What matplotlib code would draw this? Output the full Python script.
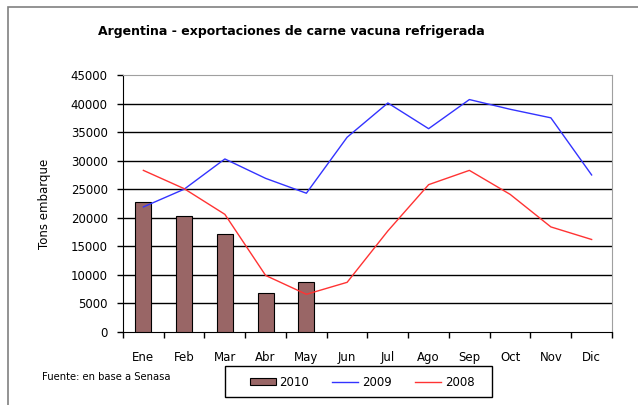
import matplotlib
matplotlib.use("Agg")
import matplotlib.pyplot as plt
from matplotlib.patches import Rectangle
import numpy as np

plt.rcParams['font.family'] = ['DejaVu Sans']

months = ["Ene", "Feb", "Mar", "Abr", "May", "Jun", "Jul", "Ago", "Sep", "Oct", "Nov", "Dic"]
v2010 = [22800, 20300, 17100, 6900, 8800]
v2009 = [21900, 25000, 30300, 26900, 24300, 34100, 40100, 35600, 40700, 39000, 37500, 27500]
v2008 = [28300, 25100, 20600, 9900, 6600, 8700, 17700, 25800, 28300, 24100, 18400, 16200]
yticks = list(range(0, 45001, 5000))

fig = plt.figure(figsize=(6.38, 4.05), dpi=100)
# outer chart border
fig.patches.append(Rectangle((8/638, -0.1), 1.2, 1 - 7/405 + 0.1, transform=fig.transFigure,
                             fill=False, edgecolor='#808080', linewidth=1.2))
# legend box
fig.patches.append(Rectangle((225/638, 1 - 397/405), (492 - 225)/638, (397 - 366)/405,
                             transform=fig.transFigure, fill=False, edgecolor='black',
                             linewidth=1.0))

ax = fig.add_axes([123/638, 1 - 332/405, (612 - 123)/638, (332 - 75)/405])
x = np.arange(len(months))
ax.bar(x[:len(v2010)], v2010, width=0.39, color='#996666', edgecolor='black', linewidth=0.8,
       label='2010', zorder=3)
ax.plot(x, v2009, color='#3333ff', linewidth=1.0, label='2009', zorder=4)
ax.plot(x, v2008, color='#ff3333', linewidth=1.0, label='2008', zorder=4)

ax.set_xlim(-0.5, len(months) - 0.5)
ax.set_ylim(0, 45000)
ax.set_yticks(yticks)
ax.set_yticklabels([str(v) for v in yticks], fontsize=8.5)
for v in yticks[1:-1]:
    ax.axhline(v, color='black', linewidth=1.0, zorder=1)

ax.set_xticks(x)
ax.set_xticklabels(months, fontsize=8.5)
ax.tick_params(axis='x', which='major', length=0, pad=14)
ax.set_xticks(np.arange(-0.5, len(months)), minor=True)
ax.tick_params(axis='x', which='minor', length=4, direction='out', width=1)
ax.tick_params(axis='y', length=4, direction='out', width=1, pad=7)

ax.spines['left'].set_color('black')
ax.spines['bottom'].set_color('black')
ax.spines['top'].set_color('#a0a0a0')
ax.spines['top'].set_linestyle((0, (1, 1)))
ax.spines['right'].set_color('#a0a0a0')

ax.set_ylabel('Tons embarque', fontsize=8.5, labelpad=14)

fig.text(98/638, 1 - 31/405, 'Argentina - exportaciones de carne vacuna refrigerada',
         fontsize=9, fontweight='bold', va='center', ha='left')
fig.text(42/638, 1 - 377/405, 'Fuente: en base a Senasa', fontsize=7.2, va='center', ha='left')

handles, labels = ax.get_legend_handles_labels()
order = [labels.index(l) for l in ['2010', '2009', '2008']]
leg = fig.legend([handles[i] for i in order], [labels[i] for i in order],
                 loc='center', bbox_to_anchor=(362/638, 1 - 382/405), ncol=3,
                 fontsize=8.5, frameon=False,
                 handlelength=2.2, handleheight=0.6, columnspacing=2.0, handletextpad=0.3,
                 borderpad=0.0)

fig.savefig('out.png', dpi=100)
